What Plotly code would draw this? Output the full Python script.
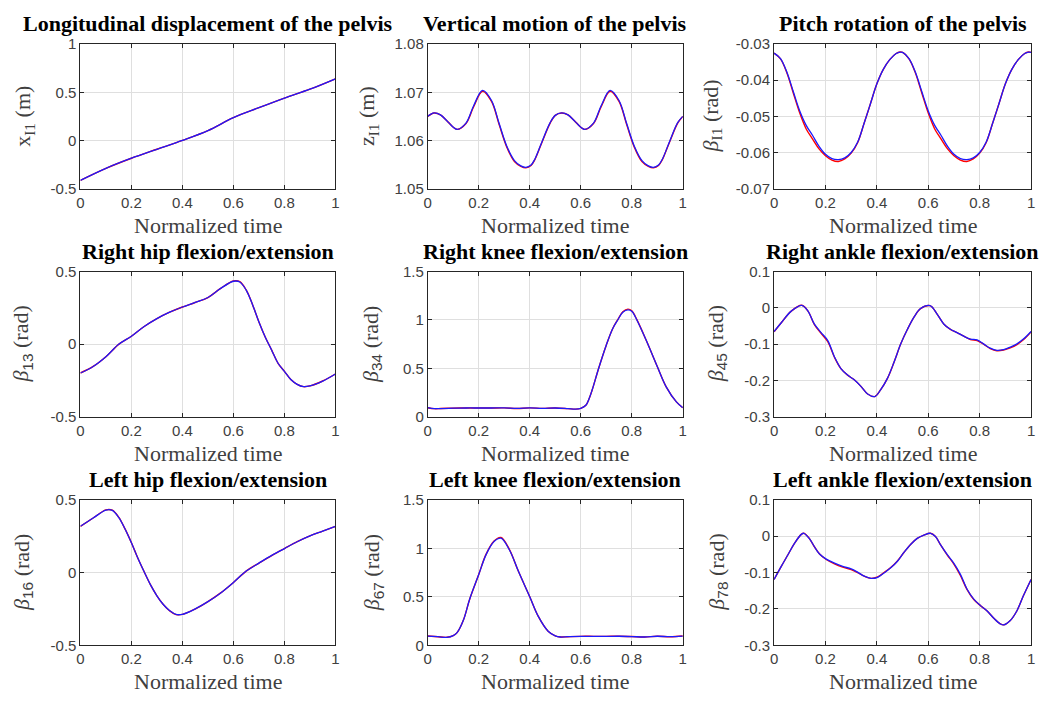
import plotly.graph_objects as go

# ---------------- data: gait trajectories over one normalized cycle ----------------
# red = reference trajectory, blue = reproduced trajectory

t_x = [0, 0.1, 0.2, 0.3, 0.4, 0.5, 0.6, 0.7, 0.8, 0.9, 1.0]
x_red = [-0.415, -0.290, -0.185, -0.092, 0.0, 0.102, 0.236, 0.340, 0.440, 0.532, 0.640]
x_blue = [-0.415, -0.290, -0.185, -0.092, 0.0, 0.102, 0.236, 0.340, 0.440, 0.532, 0.640]

t_z = [0, 0.025, 0.05, 0.08, 0.115, 0.15, 0.18, 0.215, 0.25, 0.28, 0.31, 0.34, 0.365, 0.385,
       0.405, 0.42, 0.45, 0.48, 0.5, 0.525, 0.55, 0.58, 0.615, 0.65, 0.68, 0.715, 0.75, 0.78,
       0.81, 0.84, 0.865, 0.885, 0.905, 0.92, 0.95, 0.98, 1.0]
z_red = [1.0650, 1.0657, 1.0653, 1.0638, 1.0623, 1.0635, 1.0670, 1.0702, 1.0681, 1.0633,
         1.0586, 1.0556, 1.0546, 1.0543, 1.0548, 1.0560, 1.0599, 1.0636, 1.0652, 1.0657,
         1.0653, 1.0638, 1.0623, 1.0635, 1.0670, 1.0702, 1.0681, 1.0633, 1.0586, 1.0556,
         1.0546, 1.0543, 1.0548, 1.0560, 1.0599, 1.0636, 1.0650]
z_blue = [1.0650, 1.0657, 1.0653, 1.0638, 1.0623, 1.0636, 1.0672, 1.0704, 1.0683, 1.0635,
          1.0588, 1.0558, 1.0547, 1.0544, 1.0549, 1.0561, 1.0600, 1.0637, 1.0652, 1.0657,
          1.0653, 1.0638, 1.0623, 1.0636, 1.0672, 1.0704, 1.0683, 1.0635, 1.0588, 1.0558,
          1.0547, 1.0544, 1.0549, 1.0561, 1.0600, 1.0637, 1.0650]

t_p = [0, 0.025, 0.05, 0.075, 0.1, 0.125, 0.15, 0.175, 0.2, 0.225, 0.25, 0.275, 0.3, 0.325,
       0.35, 0.375, 0.4, 0.425, 0.45, 0.475, 0.49, 0.5, 0.525, 0.55, 0.575, 0.6, 0.625, 0.65,
       0.675, 0.7, 0.725, 0.75, 0.775, 0.8, 0.825, 0.85, 0.875, 0.9, 0.925, 0.95, 0.975,
       0.99, 1.0]
p_red = [-0.0325, -0.0341, -0.0380, -0.0436, -0.0491, -0.0535, -0.0563, -0.0590, -0.0609,
         -0.0621, -0.0625, -0.0618, -0.0602, -0.0573, -0.0520, -0.0465, -0.0410, -0.0370,
         -0.0343, -0.0326, -0.0322, -0.0323, -0.0341, -0.0380, -0.0436, -0.0491, -0.0535,
         -0.0563, -0.0590, -0.0609, -0.0621, -0.0625, -0.0618, -0.0602, -0.0573, -0.0520,
         -0.0465, -0.0410, -0.0370, -0.0343, -0.0326, -0.0322, -0.0323]
p_blue = [-0.0325, -0.0340, -0.0378, -0.0432, -0.0485, -0.0525, -0.0553, -0.0583, -0.0605,
          -0.0617, -0.0620, -0.0615, -0.0600, -0.0572, -0.0520, -0.0465, -0.0410, -0.0370,
          -0.0343, -0.0326, -0.0322, -0.0323, -0.0340, -0.0378, -0.0432, -0.0485, -0.0525,
          -0.0553, -0.0583, -0.0605, -0.0617, -0.0620, -0.0615, -0.0600, -0.0572, -0.0520,
          -0.0465, -0.0410, -0.0370, -0.0343, -0.0326, -0.0322, -0.0323]

t_rh = [0, 0.05, 0.1, 0.15, 0.2, 0.25, 0.3, 0.35, 0.4, 0.45, 0.5, 0.55, 0.6, 0.625, 0.65,
        0.675, 0.7, 0.725, 0.75, 0.775, 0.8, 0.825, 0.85, 0.875, 0.9, 0.95, 1.0]
rh_red = [-0.198, -0.153, -0.086, -0.001, 0.055, 0.122, 0.176, 0.220, 0.256, 0.287, 0.321,
          0.384, 0.435, 0.430, 0.373, 0.272, 0.153, 0.048, -0.041, -0.131, -0.187, -0.243,
          -0.276, -0.292, -0.287, -0.253, -0.205]
rh_blue = [-0.198, -0.153, -0.086, -0.001, 0.055, 0.122, 0.176, 0.220, 0.256, 0.287, 0.321,
           0.384, 0.433, 0.428, 0.372, 0.272, 0.153, 0.048, -0.041, -0.131, -0.187, -0.243,
           -0.276, -0.292, -0.287, -0.254, -0.205]

t_rk = [0, 0.025, 0.05, 0.1, 0.15, 0.2, 0.25, 0.3, 0.35, 0.4, 0.45, 0.5, 0.55, 0.58, 0.6,
        0.62, 0.633, 0.645, 0.67, 0.7, 0.725, 0.745, 0.765, 0.785, 0.8, 0.82, 0.86, 0.9,
        0.935, 0.975, 1.0]
rk_red = [0.095, 0.085, 0.086, 0.090, 0.092, 0.092, 0.092, 0.093, 0.087, 0.093, 0.088,
          0.092, 0.085, 0.080, 0.088, 0.120, 0.190, 0.280, 0.500, 0.740, 0.910, 1.003,
          1.085, 1.112, 1.095, 1.003, 0.770, 0.520, 0.310, 0.155, 0.095]
rk_blue = [0.095, 0.085, 0.086, 0.090, 0.092, 0.092, 0.092, 0.093, 0.087, 0.093, 0.088,
           0.092, 0.085, 0.080, 0.088, 0.120, 0.190, 0.280, 0.500, 0.740, 0.910, 1.000,
           1.080, 1.105, 1.090, 1.000, 0.770, 0.520, 0.310, 0.155, 0.095]

t_ra = [0, 0.028, 0.067, 0.108, 0.132, 0.157, 0.183, 0.209, 0.235, 0.26, 0.286, 0.312,
        0.338, 0.364, 0.392, 0.415, 0.441, 0.467, 0.493, 0.519, 0.545, 0.57, 0.607, 0.635,
        0.661, 0.686, 0.712, 0.738, 0.764, 0.79, 0.815, 0.841, 0.867, 0.893, 0.919, 0.945,
        0.97, 1.0]
ra_red = [-0.066, -0.041, -0.009, 0.007, -0.009, -0.046, -0.070, -0.093, -0.136, -0.167,
          -0.185, -0.198, -0.216, -0.237, -0.244, -0.225, -0.194, -0.149, -0.099, -0.059,
          -0.025, -0.002, 0.006, -0.018, -0.045, -0.059, -0.068, -0.078, -0.087, -0.090,
          -0.100, -0.112, -0.118, -0.116, -0.110, -0.101, -0.088, -0.066]
ra_blue = [-0.065, -0.041, -0.009, 0.007, -0.009, -0.045, -0.068, -0.090, -0.135, -0.167,
           -0.185, -0.198, -0.216, -0.237, -0.244, -0.225, -0.194, -0.149, -0.099, -0.059,
           -0.025, -0.002, 0.006, -0.018, -0.045, -0.059, -0.068, -0.078, -0.086, -0.088,
           -0.099, -0.111, -0.117, -0.115, -0.108, -0.099, -0.086, -0.065]

t_lh = [0, 0.05, 0.1, 0.125, 0.15, 0.175, 0.2, 0.225, 0.25, 0.275, 0.3, 0.325, 0.35, 0.375,
        0.4, 0.45, 0.5, 0.55, 0.6, 0.65, 0.7, 0.75, 0.8, 0.85, 0.9, 0.95, 1.0]
lh_red = [0.318, 0.375, 0.431, 0.429, 0.381, 0.300, 0.205, 0.100, 0.005, -0.085, -0.160,
          -0.220, -0.263, -0.289, -0.288, -0.251, -0.200, -0.140, -0.068, 0.010, 0.065,
          0.117, 0.165, 0.212, 0.252, 0.285, 0.318]
lh_blue = [0.318, 0.375, 0.430, 0.428, 0.380, 0.300, 0.205, 0.100, 0.005, -0.085, -0.160,
           -0.220, -0.262, -0.288, -0.287, -0.250, -0.200, -0.140, -0.068, 0.010, 0.065,
           0.118, 0.165, 0.212, 0.252, 0.285, 0.318]

t_lk = [0, 0.04, 0.075, 0.1, 0.115, 0.14, 0.165, 0.2, 0.228, 0.26, 0.287, 0.32, 0.356, 0.4,
        0.433, 0.472, 0.5, 0.52, 0.55, 0.6, 0.65, 0.7, 0.75, 0.8, 0.85, 0.9, 0.95, 1.0]
lk_red = [0.095, 0.088, 0.082, 0.100, 0.130, 0.260, 0.480, 0.730, 0.935, 1.075, 1.112,
          0.990, 0.760, 0.500, 0.300, 0.145, 0.097, 0.085, 0.088, 0.092, 0.092, 0.092,
          0.093, 0.090, 0.085, 0.093, 0.088, 0.095]
lk_blue = [0.095, 0.088, 0.082, 0.100, 0.130, 0.260, 0.480, 0.730, 0.930, 1.070, 1.105,
           0.985, 0.760, 0.500, 0.300, 0.145, 0.097, 0.085, 0.088, 0.092, 0.092, 0.092,
           0.093, 0.090, 0.085, 0.093, 0.088, 0.095]

t_la = [0, 0.028, 0.054, 0.08, 0.106, 0.116, 0.137, 0.157, 0.177, 0.203, 0.235, 0.267, 0.3,
        0.325, 0.351, 0.377, 0.403, 0.428, 0.454, 0.48, 0.506, 0.532, 0.557, 0.583, 0.609,
        0.628, 0.648, 0.674, 0.699, 0.725, 0.751, 0.777, 0.803, 0.828, 0.854, 0.88, 0.893,
        0.919, 0.945, 0.97, 1.0]
la_red = [-0.119, -0.083, -0.051, -0.019, 0.005, 0.008, -0.006, -0.029, -0.049, -0.064,
          -0.076, -0.085, -0.092, -0.100, -0.110, -0.116, -0.112, -0.100, -0.086, -0.068,
          -0.044, -0.022, -0.006, 0.003, 0.008, -0.001, -0.024, -0.052, -0.076, -0.108,
          -0.147, -0.174, -0.191, -0.205, -0.225, -0.241, -0.244, -0.232, -0.205, -0.164,
          -0.119]
la_blue = [-0.119, -0.083, -0.051, -0.019, 0.005, 0.008, -0.006, -0.029, -0.049, -0.063,
           -0.074, -0.083, -0.090, -0.099, -0.110, -0.116, -0.113, -0.101, -0.087, -0.069,
           -0.044, -0.022, -0.006, 0.003, 0.008, -0.001, -0.024, -0.051, -0.074, -0.105,
           -0.146, -0.173, -0.191, -0.205, -0.225, -0.241, -0.244, -0.232, -0.205, -0.164,
           -0.119]

titles = ["Longitudinal displacement of the pelvis", "Vertical motion of the pelvis",
          "Pitch rotation of the pelvis",
          "Right hip flexion/extension", "Right knee flexion/extension",
          "Right ankle flexion/extension",
          "Left hip flexion/extension", "Left knee flexion/extension",
          "Left ankle flexion/extension"]

SUB = '<sub><span style="font-family:Liberation Sans, Arial, sans-serif">{}</span></sub>'
ylabels = ["x<sub>I1</sub> (m)", "z<sub>I1</sub> (m)", "<i>β</i><sub>I1</sub> (rad)",
           "<i>β</i>" + SUB.format("13") + " (rad)", "<i>β</i>" + SUB.format("34") + " (rad)",
           "<i>β</i>" + SUB.format("45") + " (rad)", "<i>β</i>" + SUB.format("16") + " (rad)",
           "<i>β</i>" + SUB.format("67") + " (rad)", "<i>β</i>" + SUB.format("78") + " (rad)"]
xlabel = "Normalized time"

x_ticks = [0, 0.2, 0.4, 0.6, 0.8, 1.0]
x_ticktext = ["0", "0.2", "0.4", "0.6", "0.8", "1"]
y_ticks = [
    ([-0.5, 0, 0.5, 1], ["-0.5", "0", "0.5", "1"]),
    ([1.05, 1.06, 1.07, 1.08], ["1.05", "1.06", "1.07", "1.08"]),
    ([-0.07, -0.06, -0.05, -0.04, -0.03], ["-0.07", "-0.06", "-0.05", "-0.04", "-0.03"]),
    ([-0.5, 0, 0.5], ["-0.5", "0", "0.5"]),
    ([0, 0.5, 1, 1.5], ["0", "0.5", "1", "1.5"]),
    ([-0.3, -0.2, -0.1, 0, 0.1], ["-0.3", "-0.2", "-0.1", "0", "0.1"]),
    ([-0.5, 0, 0.5], ["-0.5", "0", "0.5"]),
    ([0, 0.5, 1, 1.5], ["0", "0.5", "1", "1.5"]),
    ([-0.3, -0.2, -0.1, 0, 0.1], ["-0.3", "-0.2", "-0.1", "0", "0.1"]),
]
y_ranges = [[-0.5, 1], [1.05, 1.08], [-0.07, -0.03], [-0.5, 0.5], [0, 1.5], [-0.3, 0.1],
            [-0.5, 0.5], [0, 1.5], [-0.3, 0.1]]

series = [(t_x, x_red, x_blue), (t_z, z_red, z_blue), (t_p, p_red, p_blue),
          (t_rh, rh_red, rh_blue), (t_rk, rk_red, rk_blue), (t_ra, ra_red, ra_blue),
          (t_lh, lh_red, lh_blue), (t_lk, lk_red, lk_blue), (t_la, la_red, la_blue)]

# ---------------- layout geometry (pixels) ----------------
W, H = 1047, 704
cols = [(77, 334), (427, 684), (776, 1035)]
rows = [(36, 184), (269, 418), (503, 652)]
ylabel_shift = [-56, -59, -62, -58, -56, -57, -58, -55, -57]

AX_COLOR = "#262626"
TXT_COLOR = "#404040"
GRID_COLOR = "#dfdfdf"
SERIF = "Liberation Serif, Times New Roman, serif"

fig = go.Figure()
annotations = []
layout = {}

for i, (t, red, blue) in enumerate(series):
    r, c = divmod(i, 3)
    n = "" if i == 0 else str(i + 1)
    xa, ya = "x" + n, "y" + n
    x0, x1 = cols[c]
    top, bot = rows[r]
    xd = [x0 / W, x1 / W]
    yd = [1 - bot / H, 1 - top / H]

    fig.add_trace(go.Scatter(x=t, y=red, mode="lines", xaxis=xa, yaxis=ya,
                             line=dict(color="#ff0000", width=1.4, shape="spline", smoothing=1.0),
                             showlegend=False, hoverinfo="skip"))
    fig.add_trace(go.Scatter(x=t, y=blue, mode="lines", xaxis=xa, yaxis=ya,
                             line=dict(color="#1a1aff", width=1.3, shape="spline", smoothing=1.0),
                             showlegend=False, hoverinfo="skip"))

    common = dict(showline=True, linecolor=AX_COLOR, linewidth=1, mirror="ticks",
                  ticks="inside", ticklen=4, tickcolor=AX_COLOR, tickwidth=1,
                  showgrid=True, gridcolor=GRID_COLOR, gridwidth=1, zeroline=False,
                  tickfont=dict(family="Liberation Sans, Arial, sans-serif", size=15,
                                color=TXT_COLOR))
    layout["xaxis" + n] = dict(domain=xd, anchor=ya, range=[0, 1], tickvals=x_ticks,
                               ticktext=x_ticktext, **common)
    tv, tt = y_ticks[i]
    layout["yaxis" + n] = dict(domain=yd, anchor=xa, range=y_ranges[i], tickvals=tv,
                               ticktext=tt, **common)

    xc = (xd[0] + xd[1]) / 2
    annotations.append(dict(text="<b>" + titles[i] + "</b>", x=xc, y=yd[1], xref="paper",
                            yref="paper", xanchor="center", yanchor="bottom", yshift=6,
                            showarrow=False,
                            font=dict(family=SERIF, size=22, color="#000000")))
    annotations.append(dict(text=xlabel, x=xc, y=yd[0], xref="paper", yref="paper",
                            xanchor="center", yanchor="top", yshift=-22, showarrow=False,
                            font=dict(family=SERIF, size=22, color=TXT_COLOR)))
    annotations.append(dict(text=ylabels[i], x=xd[0], y=(yd[0] + yd[1]) / 2, xref="paper",
                            yref="paper", xanchor="center", yanchor="middle",
                            xshift=ylabel_shift[i], textangle=-90, showarrow=False,
                            font=dict(family=SERIF, size=22, color=TXT_COLOR)))

fig.update_layout(width=W, height=H, margin=dict(l=0, r=0, t=0, b=0),
                  paper_bgcolor="white", plot_bgcolor="white",
                  annotations=annotations, **layout)

fig.write_html("out.html")
